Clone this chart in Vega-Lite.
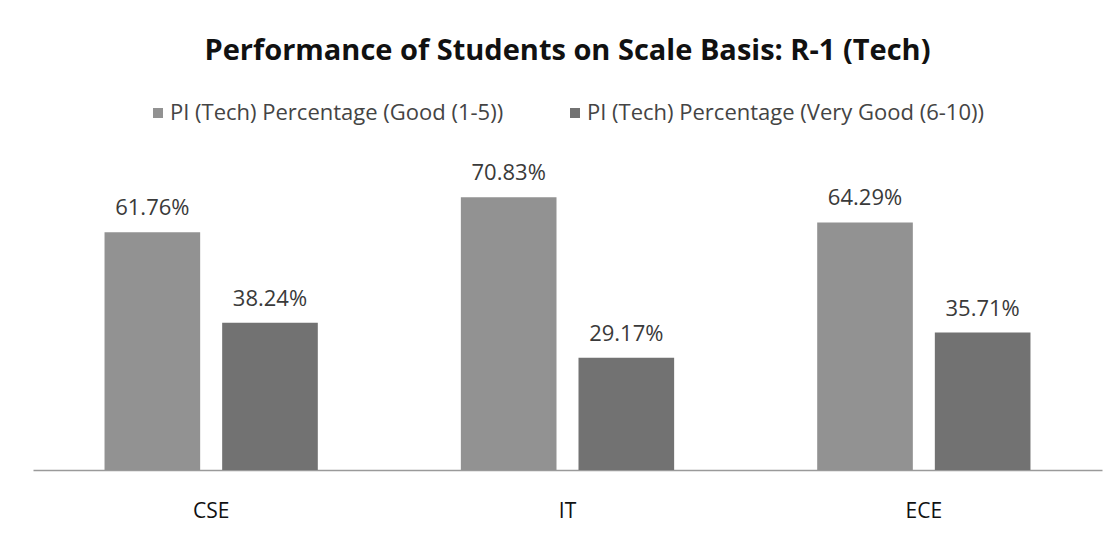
{
  "$schema": "https://vega.github.io/schema/vega-lite/v6.json",
  "autosize": "none",
  "width": 1069,
  "height": 308,
  "padding": {"left": 33, "top": 162, "right": 13, "bottom": 76},
  "background": "white",
  "title": {
    "text": "Performance of Students on Scale Basis: R-1 (Tech)",
    "font": "Open Sans",
    "fontSize": 29,
    "fontWeight": "bold",
    "color": "#111111",
    "anchor": "middle",
    "offset": 36
  },
  "data": {
    "values": [
      {"dept": "CSE", "series": "PI (Tech) Percentage (Good (1-5))", "value": 61.76, "label": "61.76%"},
      {"dept": "CSE", "series": "PI (Tech) Percentage (Very Good (6-10))", "value": 38.24, "label": "38.24%"},
      {"dept": "IT", "series": "PI (Tech) Percentage (Good (1-5))", "value": 70.83, "label": "70.83%"},
      {"dept": "IT", "series": "PI (Tech) Percentage (Very Good (6-10))", "value": 29.17, "label": "29.17%"},
      {"dept": "ECE", "series": "PI (Tech) Percentage (Good (1-5))", "value": 64.29, "label": "64.29%"},
      {"dept": "ECE", "series": "PI (Tech) Percentage (Very Good (6-10))", "value": 35.71, "label": "35.71%"}
    ]
  },
  "encoding": {
    "x": {
      "field": "dept",
      "type": "nominal",
      "sort": ["CSE", "IT", "ECE"],
      "scale": {"paddingInner": 0, "paddingOuter": 0},
      "axis": {
        "title": null,
        "labelAngle": 0,
        "labelFont": "Open Sans",
        "labelFontSize": 21,
        "labelColor": "#111111",
        "labelPadding": 30,
        "ticks": false,
        "domainColor": "#9a9a9a",
        "domainWidth": 1.5
      }
    },
    "xOffset": {
      "field": "series",
      "type": "nominal",
      "scale": {"paddingInner": 0.187, "paddingOuter": 0.608}
    },
    "y": {
      "field": "value",
      "type": "quantitative",
      "scale": {"domain": [0, 80]},
      "axis": null
    }
  },
  "layer": [
    {
      "mark": {"type": "bar"},
      "encoding": {
        "color": {
          "field": "series",
          "type": "nominal",
          "scale": {"range": ["#929292", "#727272"]},
          "legend": {
            "title": null,
            "orient": "none",
            "direction": "horizontal",
            "legendX": 114,
            "legendY": -60,
            "symbolType": "square",
            "symbolSize": 100,
            "symbolStrokeWidth": 0,
            "labelFont": "Open Sans",
            "labelFontSize": 22,
            "labelColor": "#444444",
            "labelLimit": 0,
            "columnPadding": 60,
            "labelOffset": 1
          }
        }
      }
    },
    {
      "mark": {"type": "text", "dy": -17, "baseline": "alphabetic", "font": "Open Sans", "fontSize": 22, "color": "#3a3a3a"},
      "encoding": {
        "text": {"field": "label"}
      }
    }
  ],
  "config": {
    "view": {"stroke": null}
  }
}
